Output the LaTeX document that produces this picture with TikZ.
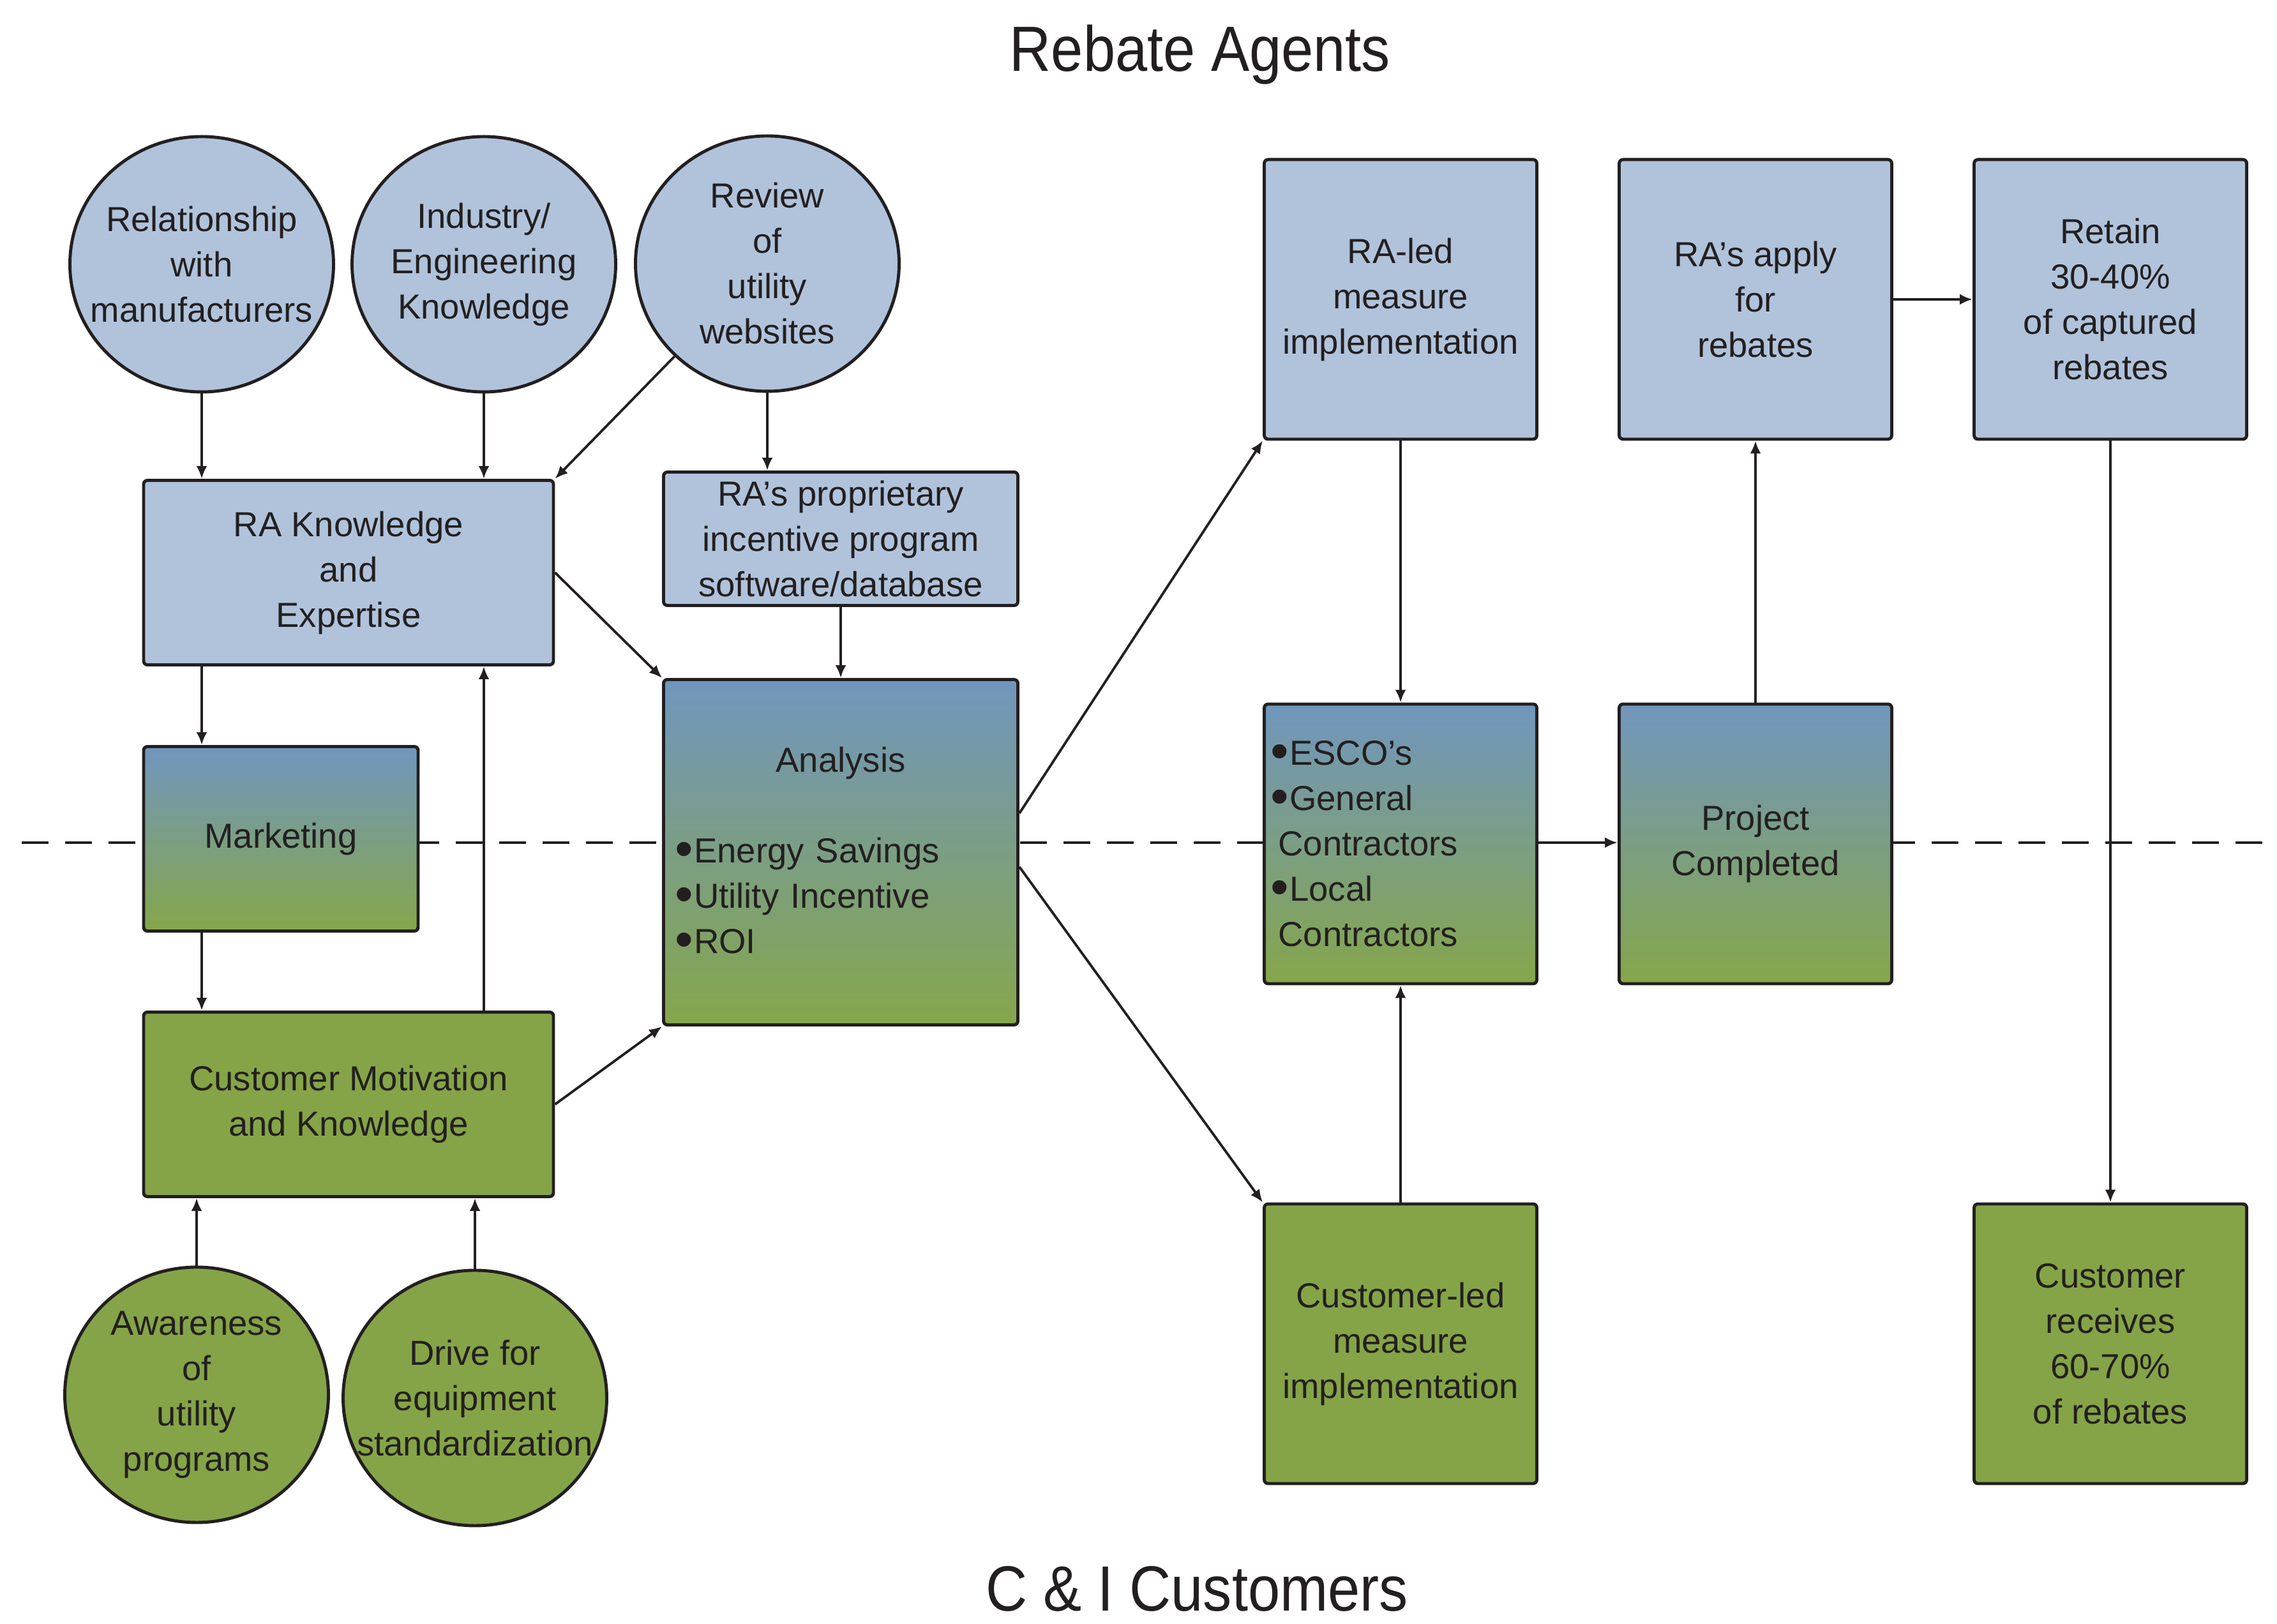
\documentclass[tikz,border=0pt]{standalone}
\usepackage{fontspec}
\setmainfont{Liberation Sans}
\newfontfamily\titlefont{Liberation Sans}[FakeStretch=0.9]
\usetikzlibrary{shapes.geometric,arrows.meta}

\definecolor{rablue}{RGB}{176,195,219}
\definecolor{cigreen}{RGB}{133,164,71}
\definecolor{shadetop}{RGB}{113,150,190}
\definecolor{shadebot}{RGB}{133,166,74}
\definecolor{ink}{RGB}{35,31,32}

\newcommand{\txt}{\fontsize{15.5}{20.2}\selectfont}
\newcommand{\blt}{\raisebox{-0.1em}{\scalebox{1.5}{•}}\kern0.02em}

\tikzstyle{arrow} = [line width=1.1pt, ->, >={Latex[length=0.2cm,width=0.17cm]}, ink]
\tikzstyle{rabox} = [draw=ink, line width=1.4pt, rounded corners=0.06cm, inner sep=0pt, align=center, text=ink, font=\txt]
\tikzstyle{bluebox} = [rabox, fill=rablue]
\tikzstyle{greenbox} = [rabox, fill=cigreen]
\tikzstyle{shadebox} = [rabox, top color=shadetop, bottom color=shadebot]
\tikzstyle{tall} = [minimum width=4.27cm, minimum height=4.38cm]
\tikzstyle{blob} = [ellipse, draw=ink, line width=1.4pt, inner sep=-0.8cm, align=center, text=ink, font=\txt, minimum width=4.13cm, minimum height=4cm]
\tikzstyle{bluecirc} = [blob, fill=rablue]
\tikzstyle{greencirc} = [blob, fill=cigreen]

\begin{document}
\begin{tikzpicture}
	\useasboundingbox (0,0) rectangle (35.67,25.44);
	\node[font=\titlefont\fontsize{28.5}{34}\selectfont, text=ink, anchor=base] (ratitle) at (18.80,24.32) {Rebate Agents};
	\node[font=\titlefont\fontsize{28.5}{34}\selectfont, text=ink, anchor=base] (cititle) at (18.75,0.2) {C \& I Customers};

	\coordinate (dl) at (0.34,12.24);
	\coordinate (dr) at (35.67,12.24);
	\draw[ink, line width=1.2pt, dash pattern=on 0.42cm off 0.26cm] (dl) -- (dr);

	\node[bluecirc] (rel) at (3.16,21.30) {Relationship\\with\\manufacturers};
	\node[bluecirc] (ind) at (7.58,21.30) {Industry/\\Engineering\\Knowledge};
	\node[bluecirc] (rev) at (12.02,21.31) {Review\\of\\utility\\websites};
	\node[bluebox, minimum width=6.42cm, minimum height=2.89cm] (rak) at (5.46,16.47) {RA Knowledge\\and\\Expertise};
	\node[bluebox, minimum width=5.55cm, minimum height=2.09cm] (prop) at (13.17,17.00) {RA’s proprietary\\incentive program\\software/database};
	\node[shadebox, minimum width=4.30cm, minimum height=2.89cm] (mkt) at (4.40,12.30) {Marketing};
	\node[shadebox, minimum width=5.55cm, minimum height=5.41cm, text width=5.19cm, align=left, inner xsep=0.18cm] (ana) at (13.17,12.09)
		{\hfill Analysis\hfill\null\\[20.2pt]\blt Energy Savings\\\blt Utility Incentive\\\blt ROI};
	\node[greenbox, minimum width=6.42cm, minimum height=2.89cm] (cmk) at (5.46,8.14) {Customer Motivation\\and Knowledge};
	\node[greencirc] (aware) at (3.08,3.59) {Awareness\\of\\utility\\programs};
	\node[greencirc] (drive) at (7.44,3.54) {Drive for\\equipment\\standardization};

	\node[bluebox, tall] (raled) at (21.94,20.75) {RA-led\\measure\\implementation};
	\node[bluebox, tall] (apply) at (27.50,20.75) {RA’s apply\\for\\rebates};
	\node[bluebox, tall] (retain) at (33.06,20.75) {Retain\\30-40\%\\of captured\\rebates};
	\node[shadebox, tall, text width=4.07cm, align=left, inner xsep=0.1cm] (esco) at (21.94,12.22)
		{\blt ESCO’s\\\blt General\\\hspace*{0.12cm}Contractors\\\blt Local\\\hspace*{0.12cm}Contractors};
	\node[shadebox, tall] (proj) at (27.50,12.22) {Project\\Completed};
	\node[greenbox, tall] (custled) at (21.94,4.39) {Customer-led\\measure\\implementation};
	\node[greenbox, tall] (recv) at (33.06,4.39) {Customer\\receives\\60-70\%\\of rebates};

	\draw[arrow] (rel.south) -- (rel.south |- rak.north);
	\draw[arrow] (ind.south) -- (ind.south |- rak.north);
	\draw[arrow] (rev.-135) -- (rak.north east);
	\draw[arrow] (rev.south) -- (rev.south |- prop.north);
	\draw[arrow] (prop.south) -- (ana.north);
	\draw[arrow] (rak.east) -- (ana.north west);
	\draw[arrow] (rak.south -| rel.south) -- (mkt.north -| rel.south);
	\draw[arrow] (mkt.south -| rel.south) -- (cmk.north -| rel.south);
	\draw[arrow] (cmk.north -| ind.south) -- (rak.south -| ind.south);
	\draw[arrow] (aware.north) -- (aware.north |- cmk.south);
	\draw[arrow] (drive.north) -- (drive.north |- cmk.south);
	\draw[arrow] (cmk.east) -- (ana.south west);
	\draw[arrow] ([yshift=0.61cm]ana.east) -- (raled.south west);
	\draw[arrow] ([yshift=-0.23cm]ana.east) -- (custled.north west);
	\draw[arrow] (raled.south) -- (esco.north);
	\draw[arrow] (custled.north) -- (esco.south);
	\draw[arrow] (esco.east |- dl) -- (proj.west |- dl);
	\draw[arrow] (proj.north) -- (apply.south);
	\draw[arrow] (apply.east) -- (retain.west);
	\draw[arrow] (retain.south) -- (recv.north);
\end{tikzpicture}
\end{document}
